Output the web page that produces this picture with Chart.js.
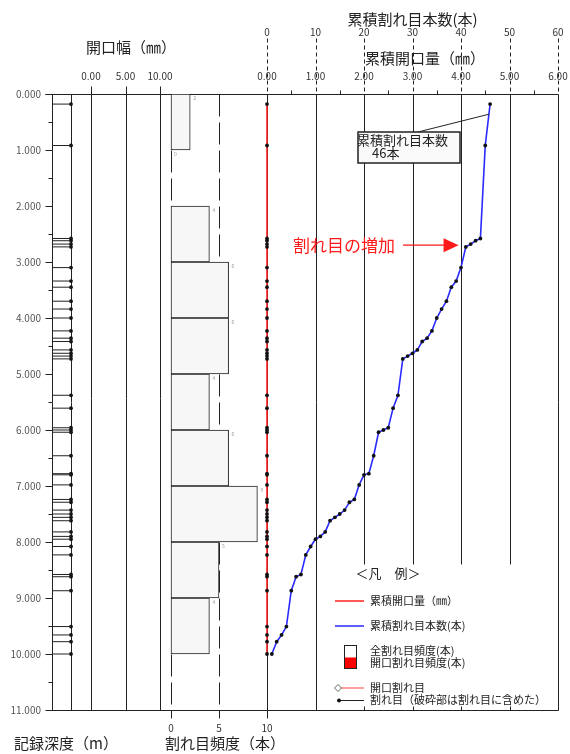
<!DOCTYPE html>
<html>
<head>
<meta charset="utf-8">
<script src="https://cdn.jsdelivr.net/npm/chart.js@4.4.1/dist/chart.umd.min.js"></script>
<style>
  html, body { margin: 0; background: #fff; }
  #wrap { width: 570px; height: 754px; position: relative; }
</style>
</head>
<body>
<div id="wrap"><canvas id="c"></canvas></div>
<script>
// 割れ目の深度 (m)
const fractureDepths = [0.18, 0.92, 2.58, 2.62, 2.68, 2.73, 3.10, 3.34, 3.45, 3.70, 3.84, 4.00,
  4.23, 4.36, 4.42, 4.57, 4.63, 4.68, 4.73, 5.38, 5.61, 5.96, 6.00, 6.04, 6.46, 6.78, 6.80, 6.98,
  7.24, 7.29, 7.43, 7.50, 7.56, 7.62, 7.82, 7.90, 7.95, 8.08, 8.23, 8.58, 8.62, 8.87, 9.51, 9.66,
  9.78, 10.00];
// 累積割れ目本数 (下から数えた本数)
const cumCounts = [46, 45, 44, 43, 42, 41, 40, 39, 38, 37, 36, 35, 34, 33, 32, 31, 30, 29, 28,
  27, 26, 25, 24, 23, 22, 21, 20, 19, 18, 17, 16, 15, 14, 13, 12, 11, 10, 9, 8, 7, 6, 5, 4, 3, 2, 1];
// 累積開口量 (mm)
const cumAperture = [0, 0, 0, 0, 0, 0, 0, 0, 0, 0, 0, 0, 0, 0, 0, 0, 0, 0, 0, 0, 0, 0, 0,
  0, 0, 0, 0, 0, 0, 0, 0, 0, 0, 0, 0, 0, 0, 0, 0, 0, 0, 0, 0, 0, 0, 0];
// 割れ目頻度 (1m毎)
const binCenters = [0.5, 1.5, 2.5, 3.5, 4.5, 5.5, 6.5, 7.5, 8.5, 9.5];
const binCounts = [2, 0, 4, 6, 6, 4, 6, 9, 5, 4];

const depthTicks = [0, 1, 2, 3, 4, 5, 6, 7, 8, 9, 10, 11];
const countTicks = [0, 10, 20, 30, 40, 50, 60];
const apertureTicks = [0, 1, 2, 3, 4, 5, 6];
const widthTicks = [0, 5, 10];
const freqTicks = [0, 5, 10];

const JP = '"Noto Sans CJK JP", "Noto Sans", sans-serif';
const AREA = { left: 52, top: 94, right: 558, bottom: 710 };

// v0 が p0, v1 が p1 の位置に来るような軸の範囲
function span(v0, p0, v1, p1) {
  const k = (v1 - v0) / (p1 - p0);
  return { min: v0 + (AREA.left - p0) * k, max: v0 + (AREA.right - p0) * k };
}

const decor = {
  id: 'decor',
  beforeDatasetsDraw(chart) {
    const { ctx, scales: s } = chart;
    const Y = v => s.y.getPixelForValue(v);
    const top = Y(0), bot = Y(11);
    const right = s.xc.getPixelForValue(60);
    const px = v => Math.round(v) + 0.5;
    const line = (x0, y0, x1, y1, dash) => {
      ctx.setLineDash(dash || []);
      ctx.beginPath();
      ctx.moveTo(px(x0), px(y0));
      ctx.lineTo(px(x1), px(y1));
      ctx.stroke();
    };
    ctx.save();
    ctx.strokeStyle = '#222';
    ctx.lineWidth = 1;

    // 深度軸
    line(45, top, right, top);
    line(47, bot, right, bot);
    line(s.xs.getPixelForValue(0), top, s.xs.getPixelForValue(0), bot);
    line(s.xs.getPixelForValue(1), top, s.xs.getPixelForValue(1), bot);
    for (let d = 0; d <= 11; d += 0.5) {
      const major = Number.isInteger(d);
      line(major ? 45 : 48, Y(d), AREA.left, Y(d));
    }

    // 開口幅
    widthTicks.forEach(v => {
      const x = s.xa.getPixelForValue(v);
      line(x, 86, x, bot);
    });

    // 割れ目頻度
    line(s.xh.getPixelForValue(0), top, s.xh.getPixelForValue(0), 718, [22, 6]);
    line(s.xh.getPixelForValue(5), top, s.xh.getPixelForValue(5), 718, [22, 6]);
    line(s.xh.getPixelForValue(10), top, s.xh.getPixelForValue(10), 718);

    // 累積軸
    countTicks.forEach(v => {
      const x = s.xc.getPixelForValue(v);
      line(x, 38, x, top, [4, 3]);
      if (v === 10) line(x, top, x, bot);
      else if (v > 0 && v < 60) {
        line(x, top, x, Y(8.4));
        line(x, bot - 4, x, bot);
      }
    });
    for (let v = 5; v < 60; v += 10) {
      const x = s.xc.getPixelForValue(v);
      line(x, top - 4, x, top);
    }
    line(right, top, right, bot);
    ctx.restore();
  },
  afterDatasetsDraw(chart) {
    const { ctx, scales: s } = chart;
    const Y = v => s.y.getPixelForValue(v);
    const text = (str, x, y, size, align, color) => {
      ctx.font = size + 'px ' + JP;
      ctx.textAlign = align || 'center';
      ctx.textBaseline = 'middle';
      ctx.fillStyle = color || '#222';
      ctx.fillText(str, x, y);
    };
    ctx.save();

    // 軸ラベル
    depthTicks.forEach(d => text(d.toFixed(3), 41, Y(d), 10, 'right', '#555'));
    countTicks.forEach(v => text(String(v), s.xc.getPixelForValue(v), 32, 10, 'center', '#333'));
    apertureTicks.forEach(v => text(v.toFixed(2), s.xo.getPixelForValue(v), 76, 10, 'center', '#333'));
    widthTicks.forEach(v => text(v.toFixed(2), s.xa.getPixelForValue(v), 76, 10, 'center', '#333'));
    freqTicks.forEach(v => text(String(v), s.xh.getPixelForValue(v), 728, 10, 'center', '#333'));

    text('累積割れ目本数(本)', s.xc.getPixelForValue(30), 19, 15);
    text('累積開口量（㎜）', 425, 58, 15);
    text('開口幅（㎜）', 131, 47, 15);
    text('記録深度（m）', 66, 743, 15);
    text('割れ目頻度（本）', 225, 743, 15);

    // 頻度の小さな数字
    binCounts.forEach((c, i) => {
      text(String(c), s.xh.getPixelForValue(c) + 3, Y(binCenters[i] - 0.5) + 4, 5, 'left', '#999');
    });

    // 注記ボックス
    ctx.strokeStyle = '#222';
    ctx.lineWidth = 1;
    ctx.beginPath();
    ctx.moveTo(418, 132);
    ctx.lineTo(s.xc.getPixelForValue(45.8), Y(0.36));
    ctx.stroke();
    ctx.fillStyle = '#fafafa';
    ctx.fillRect(358, 132, 102, 31);
    ctx.lineWidth = 1.5;
    ctx.strokeRect(358, 132, 102, 31);
    text('累積割れ目本数', 357, 140, 13, 'left');
    text('46本', 372, 153, 13, 'left');

    // 割れ目の増加
    const ay = Y(2.7), ax = s.xc.getPixelForValue(39.5);
    text('割れ目の増加', 293, ay, 17, 'left', '#ff1a1a');
    ctx.strokeStyle = '#ff1a1a';
    ctx.lineWidth = 1.2;
    ctx.beginPath();
    ctx.moveTo(403, ay);
    ctx.lineTo(ax - 10, ay);
    ctx.stroke();
    ctx.fillStyle = '#ff1a1a';
    ctx.beginPath();
    ctx.moveTo(ax, ay);
    ctx.lineTo(ax - 15, ay - 7);
    ctx.lineTo(ax - 15, ay + 7);
    ctx.closePath();
    ctx.fill();

    // 凡例
    text('＜凡　例＞', 388, 573, 13);
    ctx.lineWidth = 1.5;
    ctx.strokeStyle = '#ff2020';
    ctx.beginPath(); ctx.moveTo(335, 601); ctx.lineTo(364, 601); ctx.stroke();
    text('累積開口量（㎜）', 370, 601, 11, 'left');
    ctx.strokeStyle = '#2a2aff';
    ctx.beginPath(); ctx.moveTo(335, 626); ctx.lineTo(364, 626); ctx.stroke();
    text('累積割れ目本数(本)', 370, 626, 11, 'left');

    ctx.lineWidth = 1;
    ctx.fillStyle = '#fff';
    ctx.fillRect(344.5, 645.5, 12, 12);
    ctx.fillStyle = '#ff0000';
    ctx.fillRect(344.5, 657.5, 12, 11);
    ctx.strokeStyle = '#222';
    ctx.strokeRect(344.5, 645.5, 12, 23);
    text('全割れ目頻度(本)', 370, 651, 11, 'left');
    text('開口割れ目頻度(本)', 370, 663, 11, 'left');

    ctx.strokeStyle = '#ff8080';
    ctx.lineWidth = 1.5;
    ctx.beginPath(); ctx.moveTo(338, 688); ctx.lineTo(364, 688); ctx.stroke();
    ctx.fillStyle = '#fff';
    ctx.strokeStyle = '#666';
    ctx.lineWidth = 1;
    ctx.beginPath();
    ctx.moveTo(338, 684.5); ctx.lineTo(341.5, 688); ctx.lineTo(338, 691.5); ctx.lineTo(334.5, 688);
    ctx.closePath(); ctx.fill(); ctx.stroke();
    text('開口割れ目', 370, 688, 11, 'left');

    ctx.strokeStyle = '#222';
    ctx.beginPath(); ctx.moveTo(338, 700.5); ctx.lineTo(364, 700.5); ctx.stroke();
    ctx.fillStyle = '#111';
    ctx.beginPath(); ctx.arc(339, 700.5, 2, 0, Math.PI * 2); ctx.fill();
    text('割れ目（破砕部は割れ目に含めた）', 370, 700, 11, 'left');

    ctx.restore();
  }
};

const dot = { pointRadius: 1.9, pointBackgroundColor: '#111', pointBorderWidth: 0, pointHoverRadius: 0 };

new Chart(document.getElementById('c'), {
  type: 'bar',
  data: {
    datasets: [
      {
        type: 'bar',
        label: '全割れ目頻度',
        data: binCenters.map((d, i) => ({ x: binCounts[i], y: d })),
        xAxisID: 'xh', yAxisID: 'y',
        backgroundColor: '#f7f7f7',
        borderColor: '#222',
        borderWidth: 1,
        borderSkipped: false,
        barPercentage: 1,
        categoryPercentage: 1,
        grouped: false
      },
      {
        type: 'line',
        label: '割れ目',
        data: fractureDepths.map(d => ({ x: 0.5, y: d })),
        xAxisID: 'xs', yAxisID: 'y',
        showLine: false,
        pointStyle: 'line',
        pointRadius: 9.5,
        pointBorderColor: '#222',
        pointBorderWidth: 1
      },
      {
        type: 'line',
        label: '割れ目点',
        data: fractureDepths.map(d => ({ x: 1, y: d })),
        xAxisID: 'xs', yAxisID: 'y',
        showLine: false,
        ...dot
      },
      {
        type: 'line',
        label: '累積開口量',
        data: fractureDepths.map((d, i) => ({ x: cumAperture[i], y: d })),
        xAxisID: 'xo', yAxisID: 'y',
        borderColor: '#ff2020',
        borderWidth: 1.6,
        ...dot
      },
      {
        type: 'line',
        label: '累積割れ目本数',
        data: fractureDepths.map((d, i) => ({ x: cumCounts[i], y: d })),
        xAxisID: 'xc', yAxisID: 'y',
        borderColor: '#2a2aff',
        borderWidth: 1.6,
        tension: 0,
        ...dot
      }
    ]
  },
  options: {
    indexAxis: 'y',
    responsive: true,
    maintainAspectRatio: false,
    animation: false,
    layout: { padding: { left: AREA.left, top: AREA.top, right: 570 - AREA.right, bottom: 754 - AREA.bottom } },
    plugins: { legend: { display: false }, tooltip: { enabled: false } },
    scales: {
      y: { type: 'linear', axis: 'y', reverse: true, min: 0, max: 11, offset: false, grid: { offset: false }, display: false },
      xs: { type: 'linear', axis: 'x', display: false, ...span(0, 52, 1, 71) },
      xa: { type: 'linear', axis: 'x', display: false, ...span(0, 91, 10, 160) },
      xh: { type: 'linear', axis: 'x', display: false, ...span(0, 171, 10, 267) },
      xc: { type: 'linear', axis: 'x', display: false, ...span(0, 267, 60, 558) },
      xo: { type: 'linear', axis: 'x', display: false, ...span(0, 267, 6, 558) }
    }
  },
  plugins: [decor]
});
</script>
</body>
</html>
